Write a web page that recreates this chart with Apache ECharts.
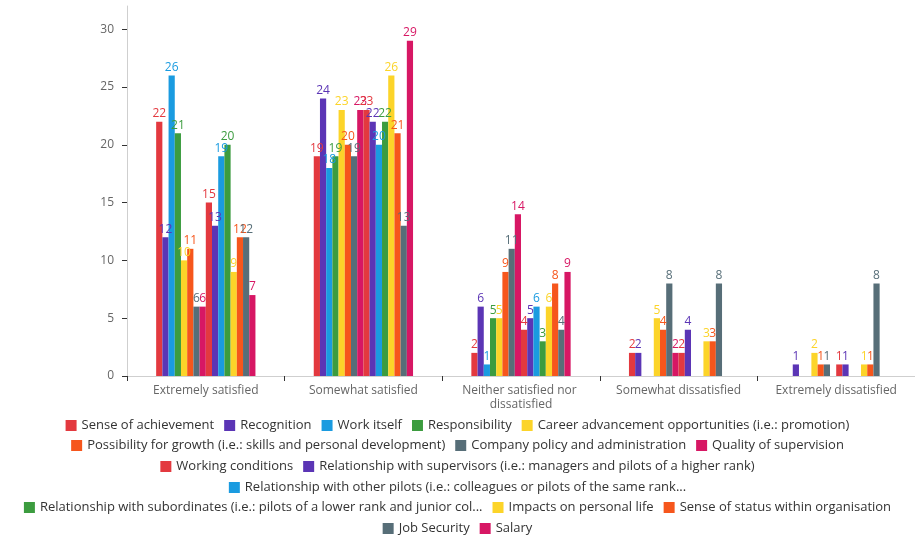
<!DOCTYPE html>
<html>
<head>
<meta charset="utf-8">
<script src="https://cdn.jsdelivr.net/npm/echarts@6/dist/echarts.min.js"></script>
<style>
  html, body { margin: 0; padding: 0; background: #fff; }
  #chart { width: 915px; height: 536px; }
</style>
</head>
<body>
<div id="chart"></div>
<script>
// categories on the x axis
const categories = [
  'Extremely satisfied',
  'Somewhat satisfied',
  'Neither satisfied nor dissatisfied',
  'Somewhat dissatisfied',
  'Extremely dissatisfied'
]

// factor names (series), in legend order
const factors = [
  'Sense of achievement',
  'Recognition',
  'Work itself',
  'Responsibility',
  'Career advancement opportunities (i.e.: promotion)',
  'Possibility for growth (i.e.: skills and personal development)',
  'Company policy and administration',
  'Quality of supervision',
  'Working conditions',
  'Relationship with supervisors (i.e.: managers and pilots of a higher rank)',
  'Relationship with other pilots (i.e.: colleagues or pilots of the same rank...',
  'Relationship with subordinates (i.e.: pilots of a lower rank and junior col...',
  'Impacts on personal life',
  'Sense of status within organisation',
  'Job Security',
  'Salary'
]

// counts per category, one entry per factor
const extremelySatisfied = [22, 12, 26, 21, 10, 11, 6, 6, 15, 13, 19, 20, 9, 12, 12, 7]
const somewhatSatisfied = [19, 24, 18, 19, 23, 20, 19, 23, 23, 22, 20, 22, 26, 21, 13, 29]
const neither = [2, 6, 1, 5, 5, 9, 11, 14, 4, 5, 6, 3, 6, 8, 4, 9]
const somewhatDissatisfied = [2, 2, 0, 0, 5, 4, 8, 2, 2, 4, 0, 0, 3, 3, 8, 0]
const extremelyDissatisfied = [0, 1, 0, 0, 2, 1, 1, 0, 1, 1, 0, 0, 1, 1, 8, 0]

const yTicks = [0, 5, 10, 15, 20, 25, 30]

const palette = ['#e3393f', '#5b35b5', '#1a9be0', '#3c9c3f', '#fcd429', '#f6561c', '#576e78', '#d71764']

// rows of the legend, as they wrap in the picture
const legendRows = [
  [0, 1, 2, 3, 4],
  [5, 6, 7],
  [8, 9],
  [10],
  [11, 12, 13],
  [14, 15]
]
const legendTops = [414, 434, 455, 476, 496, 517]

const byCategory = [extremelySatisfied, somewhatSatisfied, neither, somewhatDissatisfied, extremelyDissatisfied]

const chart = echarts.init(document.getElementById('chart'))

const series = factors.map((name, i) => {
  const color = palette[i % palette.length]
  return {
    name,
    type: 'bar',
    barGap: '0%',
    barCategoryGap: '37%',
    itemStyle: { color },
    label: {
      show: true,
      position: 'top',
      distance: 2,
      color,
      fontSize: 12,
      fontFamily: 'Open Sans',
      formatter: p => (p.value ? p.value : '')
    },
    data: byCategory.map(arr => arr[i])
  }
})

const legends = legendRows.map((row, r) => ({
  left: 'center',
  top: legendTops[r],
  icon: 'rect',
  itemWidth: 11,
  itemHeight: 11,
  itemGap: 10,
  selectedMode: false,
  textStyle: { color: '#333', fontSize: 13, fontFamily: 'Open Sans' },
  data: row.map(i => factors[i])
}))

const option = {
  animation: false,
  color: palette,
  legend: legends,
  grid: { left: 127, right: 0, top: 6, bottom: 160, containLabel: false },
  xAxis: {
    type: 'category',
    data: categories,
    axisLine: { lineStyle: { color: '#cfcfcf' } },
    axisTick: { show: true, length: 5, lineStyle: { color: '#333' } },
    axisLabel: {
      color: '#666',
      fontSize: 12,
      fontFamily: 'Open Sans',
      margin: 8,
      width: 140,
      overflow: 'break',
      lineHeight: 14,
      interval: 0
    }
  },
  yAxis: {
    type: 'value',
    min: 0,
    max: 32,
    axisLine: { show: true, lineStyle: { color: '#cfcfcf' } },
    axisTick: { show: true, length: 5, lineStyle: { color: '#333' }, customValues: yTicks },
    axisLabel: { color: '#666', fontSize: 12, fontFamily: 'Open Sans', margin: 13, customValues: yTicks },
    splitLine: { show: false }
  },
  series
}

chart.setOption(option)
</script>
</body>
</html>
